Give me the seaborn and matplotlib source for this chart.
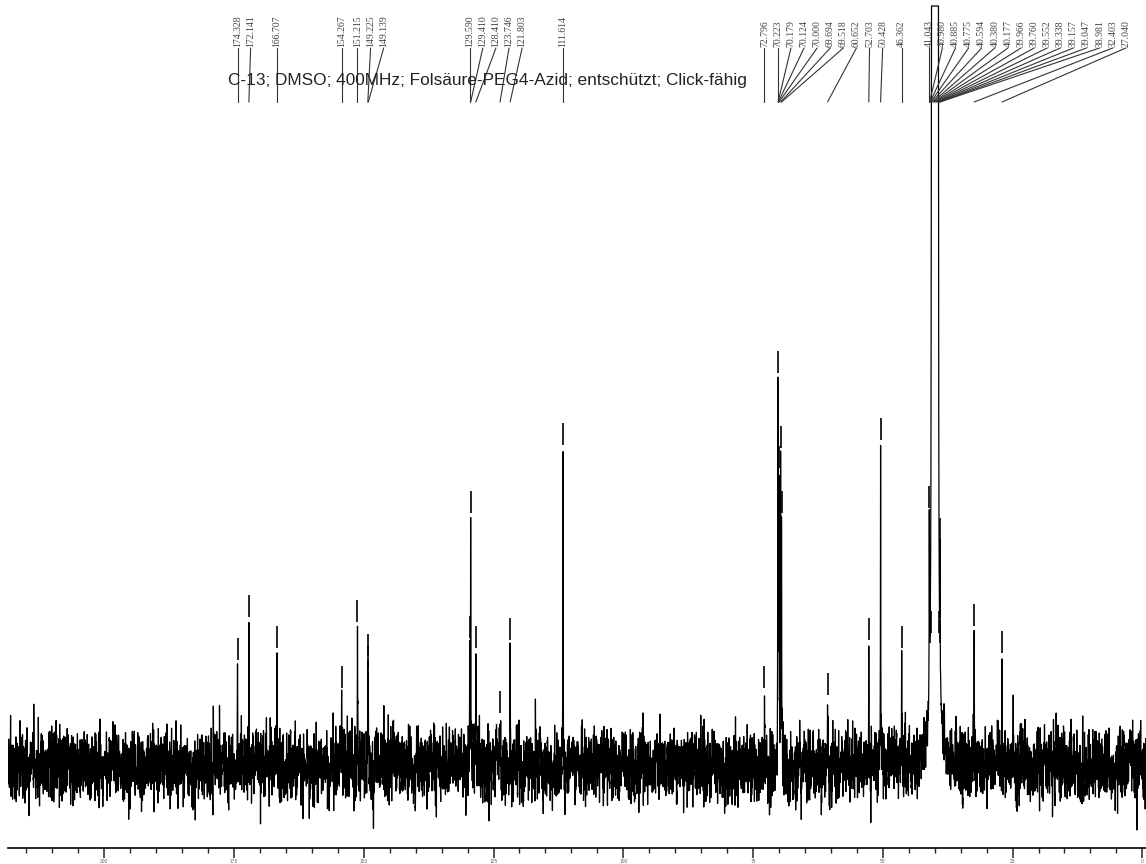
import numpy as np
import pandas as pd
import matplotlib
matplotlib.use("Agg")
import matplotlib.pyplot as plt
from matplotlib.ticker import MultipleLocator, FormatStrFormatter
from matplotlib.transforms import blended_transform_factory
import seaborn as sns

# Picked 13C signals (ppm) and their heights above the baseline (display units)
peak_ppm = [174.328, 172.141, 166.707, 154.267, 151.215, 149.225, 149.139,
            129.590, 129.410, 128.410, 123.746, 121.803, 111.614,
            72.796, 70.223, 70.179, 70.124, 70.000, 69.694, 69.518,
            60.652, 52.703, 50.428, 46.362,
            41.043, 40.980, 40.885, 40.775,
            40.594, 40.380, 40.177, 39.966, 39.760, 39.552, 39.338,
            39.157, 39.047, 38.981, 32.403, 27.040]
peak_height = [103, 146, 115, 75, 141, 107, 95,
               125, 250, 115, 50, 123, 318,
               75, 390, 300, 290, 295, 315, 250,
               68, 123, 323, 115,
               255, 150, 120, 130,
               3000, 9000, 18000, 21000, 18000, 9000, 3000,
               130, 120, 223, 137, 110]

title = "C-13; DMSO; 400MHz; Folsäure-PEG4-Azid; entschützt; Click-fähig"
major_step, minor_step = 25, 5

W, H = 1146, 864
sns.set_theme(style="white")
plt.rcParams["font.family"] = ["Liberation Sans", "DejaVu Sans"]

fig = plt.figure(figsize=(W / 100, H / 100), dpi=100)
ax = fig.add_axes([8 / W, 16 / H, 1138 / W, 843 / H])

x_left, x_right = 218.55, -0.71
y_top = 843
baseline = 82
clip_level = 842

# Spectrum: Lorentzian lines on a noisy baseline
ppm = np.linspace(x_left, x_right, 24000)
hwhm = 0.03
P = np.array(peak_ppm)
T = np.array(peak_height, float)
A = 1.0 / (1.0 + ((P[:, None] - P[None, :]) / hwhm) ** 2)
amp = np.clip(np.linalg.solve(A, T), 0, None)
signal = (amp[None, :] / (1.0 + ((ppm[:, None] - P[None, :]) / hwhm) ** 2)).sum(axis=1)

rng = np.random.default_rng(12)
white = rng.normal(0, 1, ppm.size + 8)
kernel = np.array([1, 2, 3, 4, 3, 2, 1], float)
kernel /= np.sqrt((kernel ** 2).sum())
noise = np.convolve(white, kernel, mode="valid")[:ppm.size] * 16.5
# keep the apex of each line clean so its height reads as picked
noise *= 1.0 / (1.0 + (signal / 40.0) ** 2)

intensity = np.clip(baseline + signal + noise, None, clip_level)
spec = pd.DataFrame({"ppm": ppm, "intensity": intensity})

sns.lineplot(data=spec, x="ppm", y="intensity", estimator=None, sort=False,
             color="black", linewidth=0.9, ax=ax)

# Peak-pick markers above each resolved signal
on_scale = T < clip_level - baseline
tops = baseline + T[on_scale]
ax.vlines(P[on_scale], tops + 3, tops + 25, color="black", linewidth=1.2)

ax.set_xlim(x_left, x_right)
ax.set_ylim(0, y_top)
ax.set_xlabel("")
ax.set_ylabel("")
ax.set_yticks([])
for side in ("top", "left", "right"):
    ax.spines[side].set_visible(False)
ax.spines["bottom"].set_linewidth(1.2)
ax.spines["bottom"].set_color("black")
ax.xaxis.set_major_locator(MultipleLocator(major_step))
ax.xaxis.set_minor_locator(MultipleLocator(minor_step))
ax.xaxis.set_major_formatter(FormatStrFormatter("%d"))
ax.tick_params(axis="x", which="major", bottom=True, length=7.2, width=1.1,
               direction="out", labelsize=3.5, pad=1, labelcolor="#666666")
ax.tick_params(axis="x", which="minor", bottom=True, length=3.6, width=1.0,
               direction="out")
ax.patch.set_alpha(0)

# Peak labels spread out along the top, joined to their signals
trans = blended_transform_factory(ax.transData, fig.transFigure)
px_per_ppm = 1138 / (x_left - x_right)
gap_ppm = 13.1 / px_per_ppm
label_pos = []
for p in sorted(peak_ppm, reverse=True):
    pos = p if not label_pos else min(p, label_pos[-1] - gap_ppm)
    label_pos.append(pos)
    ax.plot([pos, p], [1 - 48 / H, 1 - 102 / H], transform=trans,
            color="#333333", linewidth=0.8, clip_on=False)
    ax.text(pos, 1 - 47 / H, f"{p:.3f}", rotation=90, ha="center", va="bottom",
            fontsize=7.0, family="Liberation Serif", color="#444444",
            transform=trans)

fig.text(228 / W, 1 - 80 / H, title, ha="left", va="center", fontsize=12.4,
         family="Liberation Sans", color="#222222")

fig.savefig("out.png", dpi=100, facecolor="white")
